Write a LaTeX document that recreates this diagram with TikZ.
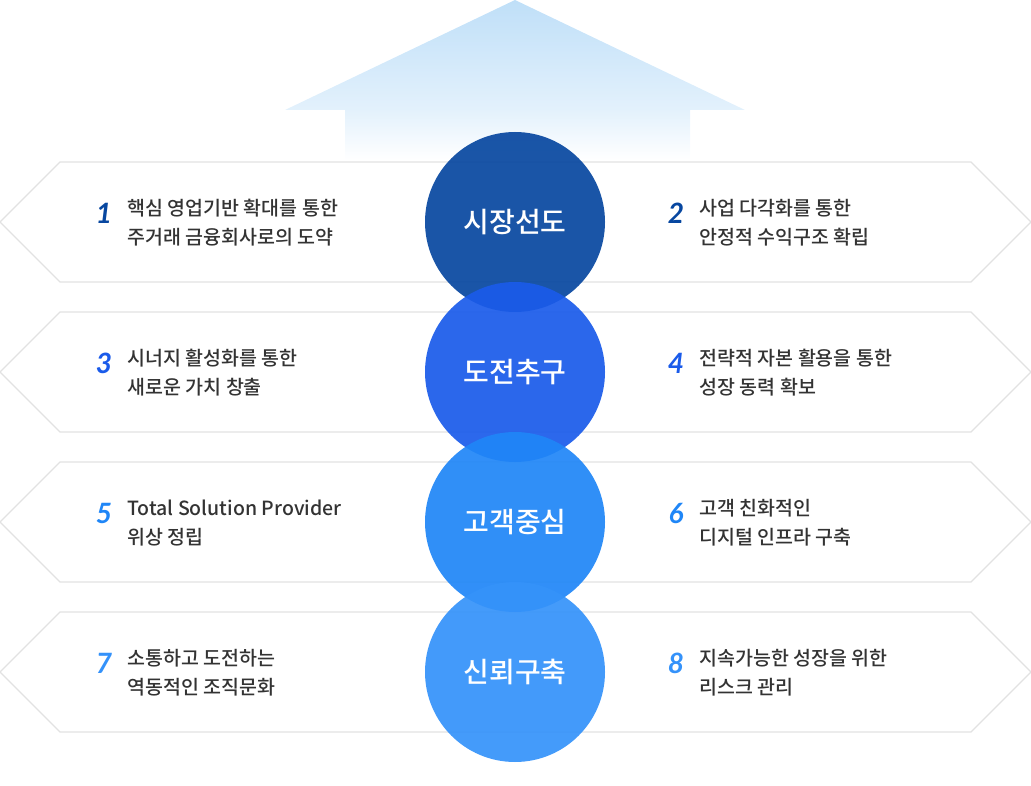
\documentclass[tikz,border=0pt]{standalone}
\usepackage{fontspec}
\setmainfont{Noto Sans CJK KR Medium}
\newfontfamily\circfont{Noto Sans CJK KR Medium}
\newfontfamily\numfont{Lato}
\usetikzlibrary{shadings}
\definecolor{cA}{HTML}{0747A0}
\definecolor{cB}{HTML}{1A5BEA}
\definecolor{cC}{HTML}{1F86F7}
\definecolor{cD}{HTML}{3492FA}
\definecolor{txt}{HTML}{333333}
\definecolor{bandline}{HTML}{E2E2E2}
\definecolor{arrTop}{HTML}{BFDFF8}
\definecolor{arrMid}{HTML}{E3F1FC}
\tikzset{
  band/.style={draw=bandline, line width=1.2pt, fill=white},
  circ/.style={circle, minimum size=180pt, inner sep=0pt, text=white, font=\circfont\fontsize{28}{30}\selectfont, fill opacity=0.92, text opacity=1},
  num/.style={font=\numfont\bfseries\itshape\fontsize{28}{30}\selectfont, anchor=center},
  desc/.style={text=txt, font=\fontsize{19.5}{29}\selectfont, align=left, anchor=west}
}
\begin{document}
\begin{tikzpicture}[x=1pt,y=-1pt]
\useasboundingbox (0,0) rectangle (1031,786);
% arrow
\shade[top color=arrTop, bottom color=arrMid] (515,0) -- (745,110) -- (285,110) -- cycle;
\shade[top color=arrMid, bottom color=white] (345,110) rectangle (690,160);
% bands
\foreach \y in {222,372,522,672}{
  \draw[band] (0,\y) -- (60,\y-60) -- (971,\y-60) -- (1031,\y) -- (971,\y+60) -- (60,\y+60) -- cycle;
}
% circles
\node[circ, fill=cA] (c1) at (515,222) {시장선도};
\node[circ, fill=cB] (c2) at (515,372) {도전추구};
\node[circ, fill=cC] (c3) at (515,522) {고객중심};
\node[circ, fill=cD] (c4) at (515,672) {신뢰구축};
% labels
\node[num, text=cA] (n1) at (104,213) {1};
\node[desc] (t1) at (124,223) {핵심 영업기반 확대를 통한\\주거래 금융회사로의 도약};
\node[num, text=cA] (n2) at (676,213) {2};
\node[desc] (t2) at (696,223) {사업 다각화를 통한\\안정적 수익구조 확립};
\node[num, text=cB] (n3) at (104,363) {3};
\node[desc] (t3) at (124,373) {시너지 활성화를 통한\\새로운 가치 창출};
\node[num, text=cB] (n4) at (676,363) {4};
\node[desc] (t4) at (696,373) {전략적 자본 활용을 통한\\성장 동력 확보};
\node[num, text=cC] (n5) at (104,513) {5};
\node[desc] (t5) at (124,523) {Total Solution Provider\\위상 정립};
\node[num, text=cC] (n6) at (676,513) {6};
\node[desc] (t6) at (696,523) {고객 친화적인\\디지털 인프라 구축};
\node[num, text=cD] (n7) at (104,663) {7};
\node[desc] (t7) at (124,673) {소통하고 도전하는\\역동적인 조직문화};
\node[num, text=cD] (n8) at (676,663) {8};
\node[desc] (t8) at (696,673) {지속가능한 성장을 위한\\리스크 관리};
\end{tikzpicture}
\end{document}
